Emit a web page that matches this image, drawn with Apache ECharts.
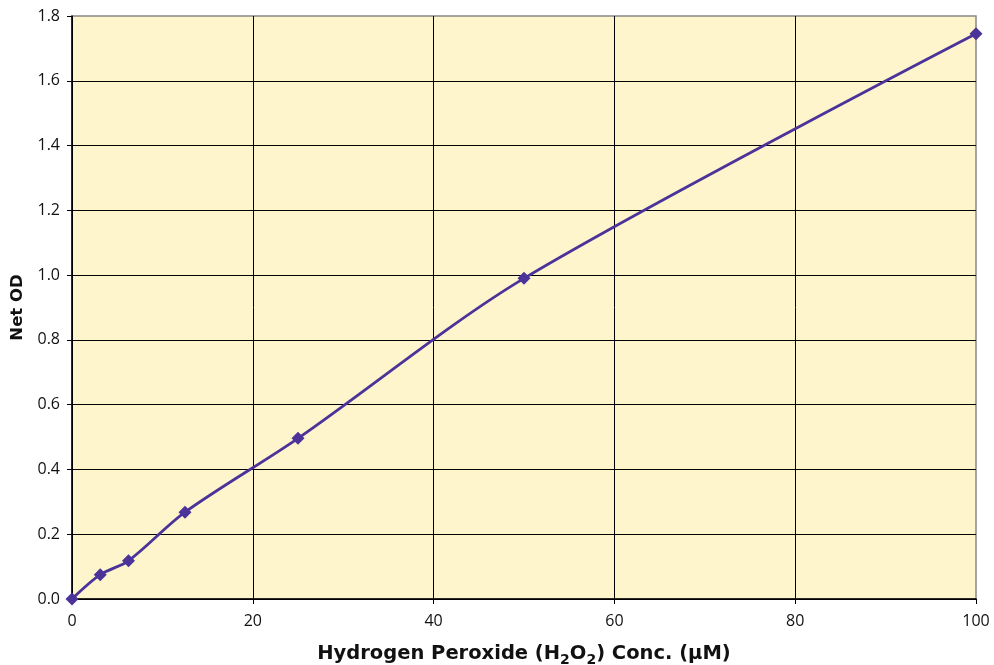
<!DOCTYPE html>
<html><head><meta charset="utf-8">
<script src="https://cdn.jsdelivr.net/npm/echarts@6/dist/echarts.min.js"></script>
<style>html,body{margin:0;padding:0;background:#fff}#c{width:994px;height:665px}</style>
</head><body><div id="c"></div>
<script>
const concentrations = [0, 3.125, 6.25, 12.5, 25, 50, 100];
const netOD = [0, 0.075, 0.118, 0.268, 0.496, 0.99, 1.745];
const xTicks = [0, 20, 40, 60, 80, 100];
const yTicks = [0, 0.2, 0.4, 0.6, 0.8, 1.0, 1.2, 1.4, 1.6, 1.8];

const chart = echarts.init(document.getElementById('c'));
const font = '"Open Sans", sans-serif';
const tfont = '"DejaVu Sans", sans-serif';
chart.setOption({
  animation: false,
  grid: {left: 72, right: 18, top: 16, bottom: 66, containLabel: false, outerBoundsMode: 'none',
    show: true, backgroundColor: '#FFF5CC', borderColor: '#888', borderWidth: 1.5},
  xAxis: {
    type: 'value', min: 0, max: 100, interval: 20,
    name: 'Hydrogen Peroxide (H{sub|2}O{sub|2}) Conc. (µM)',
    nameLocation: 'middle', nameGap: 42,
    nameTextStyle: {fontFamily: tfont, fontSize: 19.5, fontWeight: 'bold', color: '#111',
      rich: {sub: {fontFamily: tfont, fontSize: 14, fontWeight: 'bold', color: '#111', padding: [12, 0, 0, 0]}}},
    axisLine: {show: true, lineStyle: {color: '#000', width: 1.5}},
    axisTick: {show: true, length: 5, lineStyle: {color: '#000'}},
    axisLabel: {fontFamily: font, fontSize: 16, color: '#111', margin: 14, formatter: v => xTicks.includes(v) ? String(v) : ''},
    splitLine: {show: true, showMaxLine: false, lineStyle: {color: '#000', width: 1}}
  },
  yAxis: {
    type: 'value', min: 0, max: 1.8, interval: 0.2,
    name: 'Net OD', nameLocation: 'middle', nameGap: 45,
    nameTextStyle: {fontFamily: tfont, fontSize: 16.5, fontWeight: 'bold', color: '#111'},
    axisLine: {show: true, lineStyle: {color: '#000', width: 1.5}},
    axisTick: {show: true, length: 5, lineStyle: {color: '#000'}},
    axisLabel: {fontFamily: font, fontSize: 16, color: '#111', margin: 12,
      formatter: v => { const t = yTicks.find(k => Math.abs(k - v) < 1e-9); return t === undefined ? '' : t.toFixed(1); }},
    splitLine: {show: true, showMaxLine: false, lineStyle: {color: '#000', width: 1}}
  },
  series: [{
    type: 'line', smooth: 0.3,
    data: concentrations.map((x, i) => [x, netOD[i]]),
    symbol: 'diamond', symbolSize: 13,
    lineStyle: {color: '#4B3399', width: 2.8},
    itemStyle: {color: '#4B3399'}
  }]
});
</script></body></html>
